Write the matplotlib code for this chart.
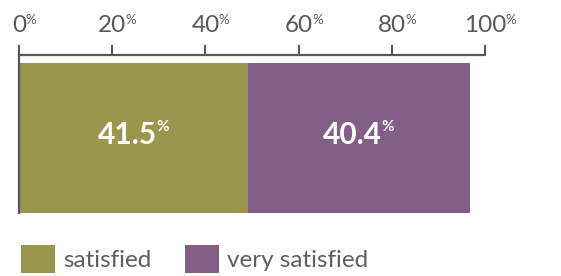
import matplotlib
matplotlib.use("Agg")
import matplotlib.pyplot as plt
from matplotlib.patches import Patch

# ---- data ----
categories = ["satisfied", "very satisfied"]
values = [41.5, 40.4]
colors = ["#9A964E", "#835F87"]
tick_values = [0, 20, 40, 60, 80, 100]
tick_labels = ["0", "20", "40", "60", "80", "100"]

W, H = 561, 276
fig = plt.figure(figsize=(W / 100, H / 100), dpi=100)
fig.patch.set_facecolor("white")

FONT = ["Lato", "DejaVu Sans"]
GRAY = "#58585a"

# axes placement in pixels (top-left origin)
left_px, right_px = 19, 485
top_px, bot_px = 55, 213
ax = fig.add_axes([left_px / W, (H - bot_px) / H,
                   (right_px - left_px) / W, (bot_px - top_px) / H])

# bar axis (bars drawn on their own scale, as in the reference graphic)
bar_xmax = 84.6
ax.set_xlim(0, bar_xmax)
ax.set_ylim(0, (bot_px - top_px) / 150)
start = 0
for cat, v, c in zip(categories, values, colors):
    ax.barh(0, v, left=start, height=1, align="edge", color=c, edgecolor="none")
    cx = start + v / 2
    t = ax.annotate(f"{v:.1f}", xy=(cx, 0.46), xytext=(-4.5, 0),
                    textcoords="offset points", ha="center", va="baseline",
                    fontsize=21.5, fontweight="bold", color="white", family=FONT)
    ax.annotate("%", xy=(1, 1), xycoords=t, xytext=(-0.5, 0.5),
                textcoords="offset points", ha="left", va="top",
                fontsize=11, fontweight="bold", color="white", family=FONT)
    start += v

ax.set_xticks([])
ax.set_yticks([])
for s in ["top", "right", "bottom"]:
    ax.spines[s].set_visible(False)
ax.spines["left"].set_color(GRAY)
ax.spines["left"].set_linewidth(1.6)
ax.spines["left"].set_zorder(5)

# percentage scale axis on top
ax2 = ax.twiny()
ax2.set_xlim(0, 100)
ax2.set_xticks(tick_values)
ax2.set_xticklabels([])
ax2.tick_params(axis="x", direction="out", length=7.5, width=1.5,
                color=GRAY, top=True, bottom=False)
for s in ["left", "right", "bottom"]:
    ax2.spines[s].set_visible(False)
ax2.spines["top"].set_color(GRAY)
ax2.spines["top"].set_linewidth(1.6)
ax2.set_yticks([])

trans = ax2.get_xaxis_transform()
label_y = 1 + 23 / (bot_px - top_px)
for tv, tl in zip(tick_values, tick_labels):
    txt = ax2.text(tv, label_y, tl, transform=trans, ha="center", va="baseline",
                   fontsize=17.5, color=GRAY, family=FONT,
                   clip_on=False)
    ax2.annotate("%", xy=(1, 1), xycoords=txt, xytext=(-0.5, 1),
                 textcoords="offset points", ha="left", va="top",
                 fontsize=9.5, color=GRAY, family=FONT)

# legend
handles = [Patch(facecolor=c, edgecolor="none", label=cat)
           for cat, c in zip(categories, colors)]
fig.legend(handles=handles, loc="lower left",
           bbox_to_anchor=(21 / W, 3 / H), frameon=False, ncol=2,
           borderpad=0, borderaxespad=0, handlelength=1.4, handleheight=1.4,
           handletextpad=0.35, columnspacing=1.35,
           prop={"family": FONT, "size": 17.5}, labelcolor="#5f5f61")

fig.savefig("out.png", dpi=100, facecolor="white")
